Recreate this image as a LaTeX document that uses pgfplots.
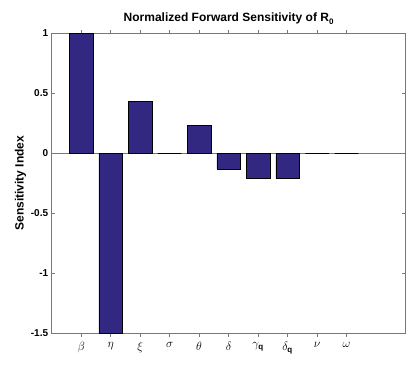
\documentclass[border=0pt]{standalone}
\usepackage{fontspec}
\setmainfont{Liberation Sans}
\usepackage{pgfplots}
\pgfplotsset{compat=1.18}
\usetikzlibrary{calc}
\definecolor{barblue}{RGB}{50,40,130}
\definecolor{axgray}{RGB}{120,120,120}
\newcommand{\sq}{\mbox{\footnotesize\bfseries q}}
\begin{document}
\begin{tikzpicture}
\begin{axis}[
  scale only axis,
  width=354pt, height=300pt,
  xmin=0, xmax=12, ymin=-1.5, ymax=1,
  axis line style={axgray},
  every tick/.style={axgray},
  tick align=inside,
  major tick length=3.5pt,
  xtick={1,2,3,4,5,6,7,8,9,10},
  xticklabels={$\beta$,$\eta$,$\xi$,$\sigma$,$\theta$,$\delta$,$\gamma_{\sq}$,$\delta_{\sq}$,$\nu$,$\omega$},
  ytick={-1.5,-1,-0.5,0,0.5,1},
  yticklabels={-1.5,-1,-0.5,0,0.5,1},
  tick label style={font=\bfseries\normalsize},
  x tick label style={font=\large, yshift=-2pt},
  title={\bfseries Normalized Forward Sensitivity of R\raisebox{-0.55ex}{\footnotesize\bfseries 0}},
  title style={font=\large, yshift=-1pt},
  ylabel={\bfseries Sensitivity Index},
  ylabel style={font=\large, yshift=-2pt},
  ybar, bar width=0.8, bar shift=0pt,
]
\addplot[axgray, sharp plot, no marks, forget plot] coordinates {(0,0) (12,0)};
\addplot[fill=barblue, draw=black, line width=0.4pt] coordinates {
  (1,1) (2,-1.5) (3,0.43) (4,0) (5,0.23) (6,-0.13) (7,-0.21) (8,-0.21) (9,0) (10,0)};
\end{axis}
\path ($(current axis.south west)+(-51.7pt,-33.7pt)$) rectangle ($(current axis.north east)+(13.5pt,33.3pt)$);
\end{tikzpicture}
\end{document}
